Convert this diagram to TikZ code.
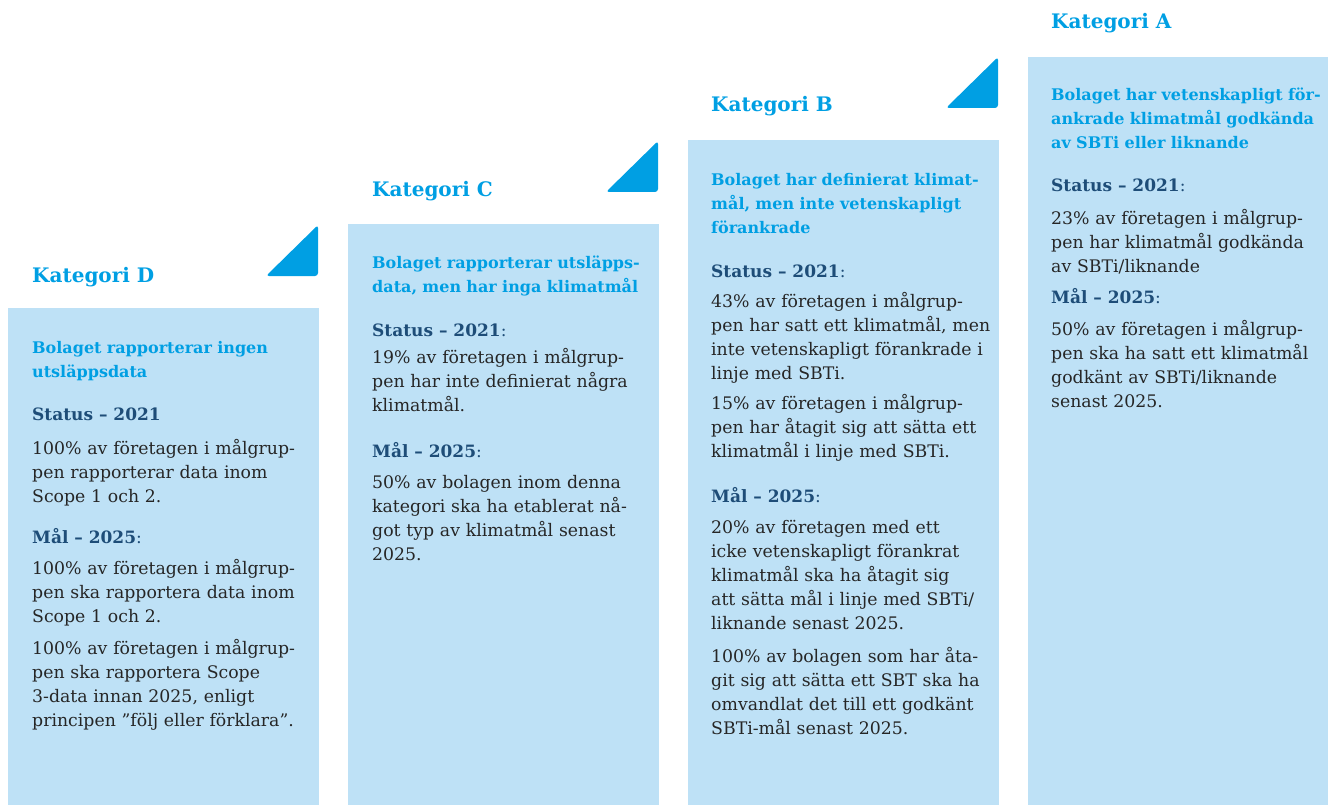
\documentclass[tikz,border=0pt]{standalone}
\usepackage{fontspec}
\setmainfont{DejaVu Serif}
\definecolor{panelblue}{HTML}{BEE1F6}
\definecolor{katblue}{HTML}{009FE3}
\definecolor{headnavy}{HTML}{1E4D78}
\definecolor{bodygrey}{HTML}{262626}
\newcommand{\katfont}{\fontsize{20}{24}\selectfont\bfseries}
\newcommand{\leadfont}{\fontsize{16}{24}\selectfont\bfseries}
\newcommand{\headfont}{\fontsize{17}{24}\selectfont\bfseries}
\newcommand{\txtfont}{\fontsize{17.3}{24}\selectfont}

\begin{document}
\begin{tikzpicture}[x=1pt, y=-1pt,
    panel/.style={fill=panelblue},
    tri/.style={fill=katblue, rounded corners=3pt},
    kat/.style={anchor=base west, inner sep=0pt, font=\katfont, text=katblue},
    lead/.style={anchor=base west, inner sep=0pt, text width=300pt, align=left, font=\leadfont, text=katblue},
    head/.style={anchor=base west, inner sep=0pt, font=\headfont, text=headnavy},
    txt/.style={anchor=base west, inner sep=0pt, text width=295pt, align=left, font=\txtfont, text=bodygrey}]
    \useasboundingbox (0,0) rectangle (1328,805);

    % panels
    \fill[panel] (8,308) rectangle (319,805);
    \fill[panel] (348,224) rectangle (659,805);
    \fill[panel] (688,140) rectangle (999,805);
    \fill[panel] (1028,57) rectangle (1328,805);

    % corner marks
    \fill[tri] (266,276) -- (318,276) -- (318,225) -- cycle;
    \fill[tri] (606,192) -- (658,192) -- (658,141) -- cycle;
    \fill[tri] (946,108) -- (998,108) -- (998,57) -- cycle;

    % Kategori D
    \node(katD)[kat] at (32,282) {Kategori D};
    \node(leadD)[lead] at (32,353) {Bolaget rapporterar ingen\\utsläppsdata};
    \node(statD)[head] at (32,420) {Status – 2021};
    \node(statDtxt)[txt] at (32,454) {100\% av företagen i målgrup-\\pen rapporterar data inom\\Scope 1 och 2.};
    \node(malD)[head] at (32,543) {Mål – 2025{\mdseries:}};
    \node(malDtxt)[txt] at (32,574) {100\% av företagen i målgrup-\\pen ska rapportera data inom\\Scope 1 och 2.\\[8pt]100\% av företagen i målgrup-\\pen ska rapportera Scope\\3-data innan 2025, enligt\\principen ”följ eller förklara”.};

    % Kategori C
    \node(katC)[kat] at (372,197) {Kategori C};
    \node(leadC)[lead] at (372,269) {Bolaget rapporterar utsläpps-\\data, men har inga klimatmål};
    \node(statC)[head] at (372,336) {Status – 2021{\mdseries:}};
    \node(statCtxt)[txt] at (372,363) {19\% av företagen i målgrup-\\pen har inte definierat några\\klimatmål.};
    \node(malC)[head] at (372,457) {Mål – 2025{\mdseries:}};
    \node(malCtxt)[txt] at (372,488) {50\% av bolagen inom denna\\kategori ska ha etablerat nå-\\got typ av klimatmål senast\\2025.};

    % Kategori B
    \node(katB)[kat] at (711,112) {Kategori B};
    \node(leadB)[lead] at (711,186) {Bolaget har definierat klimat-\\mål, men inte vetenskapligt\\förankrade};
    \node(statB)[head] at (711,277) {Status – 2021{\mdseries:}};
    \node(statBtxt)[txt] at (711,307) {43\% av företagen i målgrup-\\pen har satt ett klimatmål, men\\inte vetenskapligt förankrade i\\linje med SBTi.\\[6pt]15\% av företagen i målgrup-\\pen har åtagit sig att sätta ett\\klimatmål i linje med SBTi.};
    \node(malB)[head] at (711,502) {Mål – 2025{\mdseries:}};
    \node(malBtxt)[txt] at (711,533) {20\% av företagen med ett\\icke vetenskapligt förankrat\\klimatmål ska ha åtagit sig\\att sätta mål i linje med SBTi/\\liknande senast 2025.\\[9pt]100\% av bolagen som har åta-\\git sig att sätta ett SBT ska ha\\omvandlat det till ett godkänt\\SBTi-mål senast 2025.};

    % Kategori A
    \node(katA)[kat] at (1051,29) {Kategori A};
    \node(leadA)[lead] at (1051,101) {Bolaget har vetenskapligt för-\\ankrade klimatmål godkända\\av SBTi eller liknande};
    \node(statA)[head] at (1051,192) {Status – 2021{\mdseries:}};
    \node(statAtxt)[txt] at (1051,225) {23\% av företagen i målgrup-\\pen har klimatmål godkända\\av SBTi/liknande};
    \node(malA)[head] at (1051,303) {Mål – 2025{\mdseries:}};
    \node(malAtxt)[txt] at (1051,335) {50\% av företagen i målgrup-\\pen ska ha satt ett klimatmål\\godkänt av SBTi/liknande\\senast 2025.};

\end{tikzpicture}
\end{document}
